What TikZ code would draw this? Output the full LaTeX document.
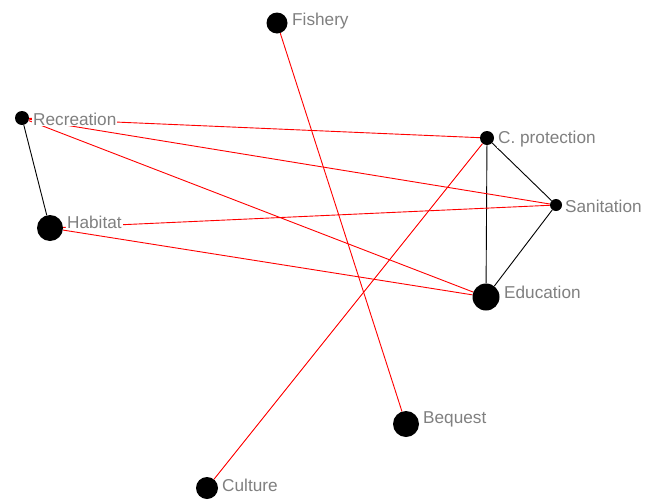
\documentclass[tikz,border=0pt]{standalone}
\usepackage{fontspec}
\setmainfont{Liberation Sans}
\begin{document}
\begin{tikzpicture}[x=1pt,y=-1pt,
  vert/.style={circle,fill=black,inner sep=0pt,minimum size=#1},
  lab/.style={anchor=west,text=black!50,fill=white,inner sep=1pt,font=\fontsize{17.2}{19}\selectfont},
  redge/.style={red,line width=0.9pt},
  bedge/.style={black,line width=0.9pt}]
\useasboundingbox (0,0) rectangle (662,501);
% vertices
\node[vert=21pt] (fish) at (277,23) {};
\node[vert=14pt] (rec) at (22,118) {};
\node[vert=14pt] (cp) at (487,138) {};
\node[vert=12pt] (san) at (556,205) {};
\node[vert=26pt] (hab) at (50,228) {};
\node[vert=27pt] (edu) at (486,297) {};
\node[vert=26pt] (beq) at (406,424) {};
\node[vert=22pt] (cul) at (207,488) {};
% edges
\draw[bedge] (rec) -- (hab);
\draw[bedge] (cp) -- (san);
\draw[bedge] (cp) -- (edu);
\draw[bedge] (san) -- (edu);
\draw[redge] (rec) -- (cp);
\draw[redge] (rec) -- (san);
\draw[redge] (rec) -- (edu);
\draw[redge] (hab) -- (san);
\draw[redge] (hab) -- (edu);
\draw[redge] (cul) -- (cp);
\draw[redge] (fish) -- (beq);
% labels
\node[lab] (lfish) at (291,21) {Fishery};
\node[lab] (lrec) at (32,119) {Recreation};
\node[lab] (lcp) at (497,139) {C. protection};
\node[lab] (lsan) at (564,206) {Sanitation};
\node[lab] (lhab) at (66,222) {Habitat};
\node[lab] (ledu) at (503,292) {Education};
\node[lab] (lbeq) at (422,419) {Bequest};
\node[lab] (lcul) at (221,485) {Culture};
\end{tikzpicture}
\end{document}
